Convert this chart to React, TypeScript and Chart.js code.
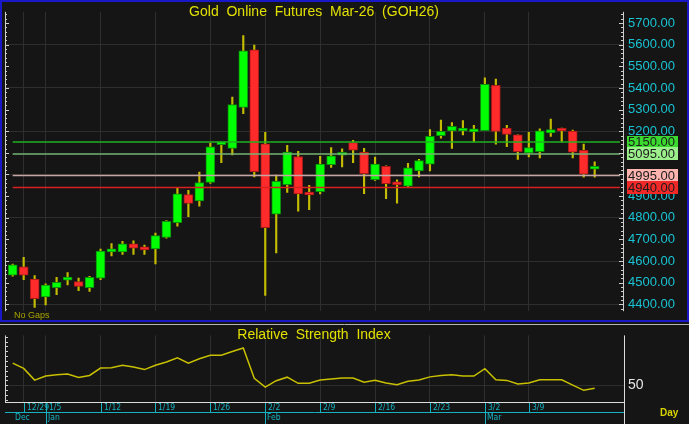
import React, { useEffect, useRef } from 'react';
import { Chart, registerables } from 'chart.js';

Chart.register(...registerables);

const FONT = "'Liberation Sans', Arial, sans-serif";
const NARROW = "'Liberation Sans Narrow', 'DejaVu Sans Condensed', 'Liberation Sans', sans-serif";

// ---- Data ----
const opens = [4534, 4573, 4517, 4434, 4477, 4512, 4505, 4477, 4521, 4642, 4642, 4679, 4665, 4656, 4709, 4777, 4907, 4878, 4963, 5138, 5121, 5310, 5576, 5142, 4817, 4953, 5083, 4908, 4920, 5045, 5089, 5147, 5103, 4976, 5038, 4957, 4946, 5016, 5048, 5179, 5201, 5201, 5197, 5203, 5412, 5215, 5183, 5100, 5106, 5192, 5210, 5201, 5112, 5024];
const highs = [4586, 4617, 4533, 4495, 4524, 4546, 4521, 4529, 4655, 4681, 4691, 4693, 4674, 4729, 4787, 4936, 4927, 5011, 5145, 5147, 5358, 5642, 5598, 5195, 4997, 5135, 5107, 4950, 5084, 5124, 5118, 5158, 5121, 5080, 5040, 4975, 5051, 5070, 5208, 5252, 5240, 5249, 5227, 5447, 5441, 5227, 5183, 5195, 5211, 5256, 5215, 5205, 5140, 5059];
const lows = [4530, 4514, 4385, 4397, 4444, 4489, 4463, 4460, 4514, 4623, 4630, 4630, 4630, 4586, 4706, 4761, 4805, 4853, 4959, 5055, 5090, 5281, 4989, 4441, 4637, 4917, 4830, 4837, 4910, 5033, 5035, 5055, 4911, 4972, 4888, 4867, 4943, 4989, 5016, 5168, 5120, 5183, 5150, 5203, 5140, 5128, 5070, 5081, 5077, 5176, 5150, 5077, 4987, 4987];
const closes = [4582, 4534, 4426, 4489, 4502, 4515, 4482, 4525, 4646, 4646, 4679, 4659, 4651, 4717, 4784, 4911, 4866, 4963, 5128, 5142, 5323, 5572, 5013, 4754, 4968, 5103, 4910, 4905, 5048, 5086, 5093, 5112, 5004, 5048, 4958, 4952, 5031, 5064, 5176, 5199, 5223, 5215, 5200, 5417, 5199, 5185, 5106, 5124, 5202, 5208, 5201, 5103, 5001, 5026];
const rsiValues = [72.8, 67.4, 55.4, 59.6, 60.8, 61.7, 58.1, 60.2, 67.7, 68.0, 70.7, 68.9, 66.2, 70.7, 74.0, 78.2, 72.8, 77.3, 80.9, 80.9, 84.8, 88.4, 57.2, 48.2, 54.8, 58.4, 52.1, 52.1, 55.4, 56.6, 57.5, 57.5, 53.3, 55.1, 52.4, 50.6, 54.2, 55.4, 58.7, 60.2, 60.8, 59.6, 59.6, 67.1, 55.7, 55.1, 51.5, 52.4, 55.7, 55.7, 55.7, 50.3, 44.9, 47.0];

const weekTickIdx = [1, 3, 8, 13, 18, 23, 28, 33, 38, 43, 47];
const weekLabels = ['12/29', '1/5', '1/12', '1/19', '1/26', '2/2', '2/9', '2/16', '2/23', '3/2', '3/9'];
const monthIdx = [0, 3, 23, 43];
const monthLabels = ['Dec', 'Jan', 'Feb', 'Mar'];
const monthLineIdx = [3, 23, 43];

const levels = [5150, 5095, 4995, 4940];
const levelLineColors = ['#20b020', '#74b474', '#c8a4a4', '#d82020'];
const levelBoxColors = ['#3ada2e', '#9cf08c', '#ffb4b0', '#f02828'];

const TITLE = 'Gold  Online  Futures  Mar-26  (GOH26)';
const RSI_TITLE = 'Relative  Strength  Index';

// ---- Styling / layout constants ----
const X_MIN = -0.7;
const X_MAX = 55.67;
const LEVEL_END = 55.3;
const Y_MIN = 4368;
const Y_MAX = 5752;
const RSI_MIN = 32.9;
const RSI_MAX = 101.3;
const BG = '#151515';
const GRID = '#2e2e2e';
const CYAN = '#19c3d2';
const DATE_CYAN = '#17b2c2';
const YELLOW = '#e2e000';

const mainPlugin = {
  id: 'mainDecor',
  afterDraw(chart: any) {
    const ctx = chart.ctx;
    const { left, right, top, bottom } = chart.chartArea;
    const ys = chart.scales.y;
    ctx.save();
    ctx.strokeStyle = '#cfcfcf';
    ctx.lineWidth = 1;
    ctx.beginPath();
    ctx.moveTo(left + 0.5, top);
    ctx.lineTo(left + 0.5, bottom);
    ctx.moveTo(right - 0.5, top);
    ctx.lineTo(right - 0.5, bottom);
    for (let v = 4380; v <= 5740; v += 20) {
      const y = Math.round(ys.getPixelForValue(v)) + 0.5;
      const len = v % 100 === 0 ? 4 : 2;
      ctx.moveTo(left, y);
      ctx.lineTo(left + len, y);
      ctx.moveTo(right, y);
      ctx.lineTo(right - len - 1, y);
    }
    ctx.stroke();

    ctx.fillStyle = YELLOW;
    ctx.font = `14px ${FONT}`;
    ctx.textAlign = 'center';
    ctx.textBaseline = 'middle';
    ctx.fillText(TITLE, 314, 12);

    ctx.fillStyle = '#a8a400';
    ctx.font = `9px ${FONT}`;
    ctx.textAlign = 'left';
    ctx.fillText('No Gaps', 14, 316);

    ctx.font = `13px ${FONT}`;
    levels.forEach((lv, i) => {
      const y = ys.getPixelForValue(lv);
      ctx.fillStyle = levelBoxColors[i];
      ctx.fillRect(627, Math.round(y - 6.5), 51, 13);
      ctx.fillStyle = '#1c1c1c';
      ctx.textAlign = 'left';
      ctx.textBaseline = 'middle';
      ctx.fillText(lv.toFixed(2), 628, y + 0.5);
    });

    ctx.strokeStyle = '#1818c8';
    ctx.lineWidth = 2;
    ctx.strokeRect(1, 1, chart.width - 2, 320);
    ctx.restore();
  },
};

const rsiPlugin = {
  id: 'rsiDecor',
  afterDraw(chart: any) {
    const ctx = chart.ctx;
    const { left, right, top, bottom } = chart.chartArea;
    const xs = chart.scales.x;
    const ys = chart.scales.y;
    ctx.save();
    ctx.strokeStyle = '#b4b4b4';
    ctx.lineWidth = 1;
    ctx.beginPath();
    ctx.moveTo(0, 1.5);
    ctx.lineTo(chart.width, 1.5);
    ctx.stroke();

    ctx.strokeStyle = '#d0d0d0';
    ctx.beginPath();
    ctx.moveTo(left + 0.5, top);
    ctx.lineTo(left + 0.5, bottom);
    for (let v = 35; v <= 100; v += 5) {
      const y = Math.round(ys.getPixelForValue(v)) + 0.5;
      ctx.moveTo(left, y);
      ctx.lineTo(left + 3, y);
    }
    ctx.stroke();

    ctx.strokeStyle = '#dcdcdc';
    ctx.beginPath();
    ctx.moveTo(left, bottom + 0.5);
    ctx.lineTo(right + 1, bottom + 0.5);
    ctx.moveTo(right + 0.5, top);
    ctx.lineTo(right + 0.5, chart.height);
    ctx.stroke();

    ctx.fillStyle = YELLOW;
    ctx.font = `14px ${FONT}`;
    ctx.textAlign = 'center';
    ctx.textBaseline = 'middle';
    ctx.fillText(RSI_TITLE, 314, 12);

    const midY = bottom + 10;
    ctx.strokeStyle = DATE_CYAN;
    ctx.beginPath();
    ctx.moveTo(left, midY + 0.5);
    ctx.lineTo(right, midY + 0.5);
    weekTickIdx.forEach((i) => {
      const x = Math.round(xs.getPixelForValue(i)) + 0.5;
      ctx.moveTo(x, bottom + 1);
      ctx.lineTo(x, midY);
    });
    monthLineIdx.forEach((i) => {
      const x = Math.round(xs.getPixelForValue(i)) + 0.5;
      ctx.moveTo(x, midY);
      ctx.lineTo(x, chart.height);
    });
    ctx.stroke();

    ctx.fillStyle = DATE_CYAN;
    ctx.font = `8.5px ${NARROW}`;
    ctx.textAlign = 'left';
    ctx.textBaseline = 'middle';
    weekTickIdx.forEach((i, k) => {
      const x = Math.round(xs.getPixelForValue(i));
      ctx.fillText(weekLabels[k], x + 3, bottom + 5.5);
    });
    monthIdx.forEach((i, k) => {
      const x = Math.round(xs.getPixelForValue(i));
      ctx.fillText(monthLabels[k], x + 2, bottom + 15.5);
    });

    ctx.fillStyle = '#d8d400';
    ctx.font = `bold 10px ${FONT}`;
    ctx.fillText('Day', 660, bottom + 11);
    ctx.restore();
  },
};

const idxOf = (arr: number[]) => arr.map((_, i) => i);

export default function App() {
  const mainRef = useRef<HTMLCanvasElement | null>(null);
  const rsiRef = useRef<HTMLCanvasElement | null>(null);

  useEffect(() => {
    Chart.defaults.font.family = FONT;
    const idx = idxOf(closes);
    const up = idx.map((i) => closes[i] >= opens[i]);

    const levelSets = levels.map((lv, i) => ({
      type: 'line' as const,
      data: [{ x: 0, y: lv }, { x: LEVEL_END, y: lv }],
      borderColor: levelLineColors[i],
      borderWidth: 1.5,
      pointRadius: 0,
      order: 0,
    }));

    const main = new Chart(mainRef.current as HTMLCanvasElement, {
      type: 'bar',
      data: {
        datasets: [
          ...levelSets,
          {
            type: 'bar',
            data: idx.map((i) => ({ x: i, y: [opens[i], closes[i]] })),
            backgroundColor: idx.map((i) => (up[i] ? '#00ff00' : '#ff2a2a')),
            borderColor: idx.map((i) => (up[i] ? '#0c8c0c' : '#a81818')),
            borderWidth: 1,
            borderSkipped: false,
            barThickness: 9,
            minBarLength: 3,
            grouped: false,
            order: 1,
          } as any,
          {
            type: 'bar',
            data: idx.map((i) => ({ x: i, y: [lows[i], highs[i]] })),
            backgroundColor: '#c4bc00',
            borderWidth: 0,
            barThickness: 1.5,
            grouped: false,
            order: 2,
          } as any,
        ],
      },
      options: {
        animation: false,
        responsive: false,
        maintainAspectRatio: false,
        layout: { padding: { left: 5, right: 0, top: 3, bottom: 3 } },
        plugins: { legend: { display: false }, tooltip: { enabled: false } },
        scales: {
          x: {
            type: 'linear',
            min: X_MIN,
            max: X_MAX,
            offset: false,
            grid: { color: GRID, drawTicks: false, offset: false },
            border: { display: false },
            ticks: { display: false },
            afterBuildTicks: (s: any) => {
              s.ticks = weekTickIdx.map((v) => ({ value: v }));
            },
            afterFit: (s: any) => {
              s.height = 0;
            },
          },
          y: {
            type: 'linear',
            position: 'right',
            min: Y_MIN,
            max: Y_MAX,
            grid: {
              color: (c: any) => (c.tick && c.tick.value % 200 === 0 ? GRID : 'rgba(0,0,0,0)'),
              drawTicks: false,
            },
            border: { display: false },
            ticks: {
              stepSize: 100,
              includeBounds: false,
              color: CYAN,
              font: { size: 13, family: FONT },
              padding: 4,
              callback: (v: any) => Number(v).toFixed(2),
            },
            afterFit: (s: any) => {
              s.width = 65;
            },
          },
        },
      } as any,
      plugins: [mainPlugin],
    });

    const rsi = new Chart(rsiRef.current as HTMLCanvasElement, {
      type: 'line',
      data: {
        datasets: [
          {
            data: idx.map((i) => ({ x: i, y: rsiValues[i] })),
            borderColor: '#c8c000',
            borderWidth: 1.5,
            pointRadius: 0,
            tension: 0,
          },
        ],
      },
      options: {
        animation: false,
        responsive: false,
        maintainAspectRatio: false,
        layout: { padding: { left: 5, right: 0, top: 3, bottom: 0 } },
        plugins: { legend: { display: false }, tooltip: { enabled: false } },
        scales: {
          x: {
            type: 'linear',
            min: X_MIN,
            max: X_MAX,
            offset: false,
            grid: { color: GRID, drawTicks: false },
            border: { display: false },
            ticks: { display: false },
            afterBuildTicks: (s: any) => {
              s.ticks = weekTickIdx.map((v) => ({ value: v }));
            },
            afterFit: (s: any) => {
              s.height = 22;
            },
          },
          y: {
            type: 'linear',
            position: 'right',
            min: RSI_MIN,
            max: RSI_MAX,
            grid: { color: GRID, drawTicks: false },
            border: { display: false },
            afterBuildTicks: (s: any) => {
              s.ticks = [{ value: 50 }];
            },
            ticks: {
              color: '#e6e6e6',
              font: { size: 14, family: FONT },
              padding: 4,
              callback: (v: any) => String(Math.round(Number(v))),
            },
            afterFit: (s: any) => {
              s.width = 65;
            },
          },
        },
      } as any,
      plugins: [rsiPlugin],
    });

    return () => {
      main.destroy();
      rsi.destroy();
    };
  }, []);

  return (
    <div style={{ position: 'absolute', left: 0, top: 0, width: 689, height: 424, background: BG, overflow: 'hidden' }}>
      <canvas ref={mainRef} width={689} height={323} style={{ position: 'absolute', left: 0, top: 0, width: 689, height: 323, display: 'block' }} />
      <canvas ref={rsiRef} width={689} height={101} style={{ position: 'absolute', left: 0, top: 323, width: 689, height: 101, display: 'block' }} />
    </div>
  );
}
